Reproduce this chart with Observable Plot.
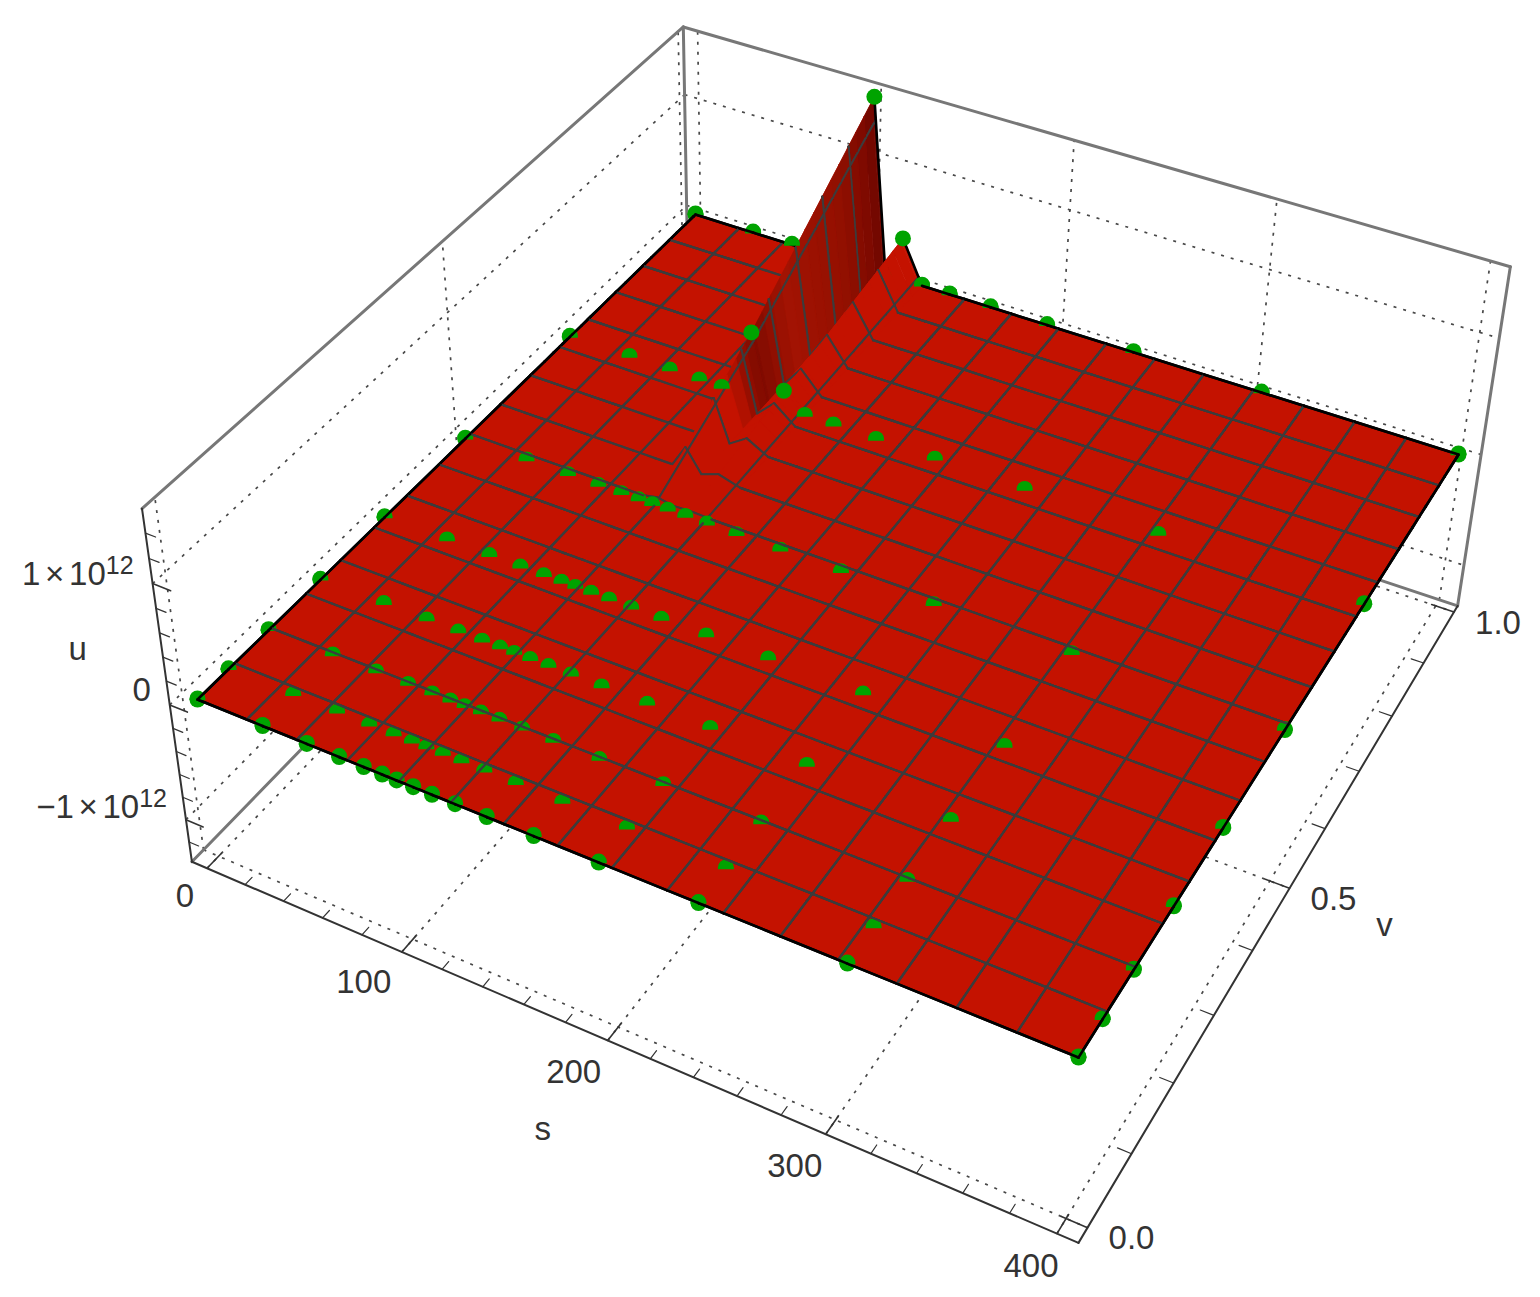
<!DOCTYPE html>
<html><head><meta charset="utf-8">
<style>html,body{margin:0;padding:0;background:#fff}svg{display:block}</style>
<script src="https://cdn.jsdelivr.net/npm/d3@7"></script>
<script src="https://cdn.jsdelivr.net/npm/@observablehq/plot@0.6"></script>
</head><body><div id="chart"></div>
<script>
// ---- data ----
const sGrid=[0,33,55,71,83,92,99,107,116,127,142,164,194,239,304,400];
const vGrid=[0,0.052,0.121,0.213,0.332,0.49,0.71,1];
const uZero=[0,0,0,0,0,0,0,0,0,0,0,0,0,0,0,0];
const uV071=[0,0,0,0,0,0,0.575,0,0.16,0,0,0,0,0,0,0];   // units of 1e12
const uV100=[0,0,0,0,0,0,1.52,0,0.37,0,0,0,0,0,0,0];
const uRows=[uZero,uZero,uZero,uZero,uZero,uZero,uV071,uV100];
const sTicks=[0,100,200,300,400], vTicks=[0,0.5,1], uTicks=[-1,0,1];
const sMinor=[20,40,60,80,120,140,160,180,220,240,260,280,320,340,360,380];
const vMinor=[0.1,0.2,0.3,0.4,0.6,0.7,0.8,0.9];
const uMinor=[-1.2,-0.8,-0.6,-0.4,-0.2,0.2,0.4,0.6,0.8,1.2,1.4];
const meshS=d3.range(1,16).map(k=>k*25), meshV=d3.range(1,16).map(k=>k/16);
const hiddenPts=["3,7","4,7","5,7","7,7","5,6","7,6"];
const raisedPts=["6,7","8,7","6,6","8,6"];
const box={s0:-8,s1:409,v0:-0.02,v1:1.012,u0:-1.38,u1:1.59};
// small label placement corrections, per tick
const sNudge=[[14,-2],[-2,0],[2,2],[5,2],[10,3]], uNudge=[[0,0],[0,-2],[0,3]];
// ---- colours ----
const RED="#c41200",MESH="#3c3c3c",GREEN="#00a300",INK="#333",BACK="#777",GRID="#484848";
// ---- perspective camera ----
const cam={a:760.33,b:644.23,c:197,d:239.67,e:-439.97,f:699,g:-0.11194,h:0.2104,i:-21.3,j:-137.1,k:-0.02748};
const px=(s,v,u)=>{const p=s/400;return (cam.a*p+cam.b*v+cam.c+cam.i*u)/(1+cam.g*p+cam.h*v+cam.k*u)};
const py=(s,v,u)=>{const p=s/400;return (cam.d*p+cam.e*v+cam.f+cam.j*u)/(1+cam.g*p+cam.h*v+cam.k*u)};
const P=(s,v,u,extra={})=>({x:px(s,v,u),y:py(s,v,u),s,v,u,...extra});
const uAt=(s,v)=>{
  const i=Math.min(d3.bisectRight(sGrid,s)-1,sGrid.length-2), j=Math.min(d3.bisectRight(vGrid,v)-1,vGrid.length-2);
  const ts=(s-sGrid[i])/(sGrid[i+1]-sGrid[i]), tv=(v-vGrid[j])/(vGrid[j+1]-vGrid[j]);
  return (uRows[j][i]*(1-ts)+uRows[j][i+1]*ts)*(1-tv)+(uRows[j+1][i]*(1-ts)+uRows[j+1][i+1]*ts)*tv;
};
// ---- wall shading along v ----
const wallShade=d3.scaleLinear().domain([0.655,0.675,0.71,0.78,0.9,0.97,1]).range([RED,"#9c0f00","#7f0b00","#a31303","#941000","#7d0a00","#6a0600"]);
const quadFill=(s,v)=>(s>=99&&s<=107&&v>=0.655)?wallShade(v):RED;
// ---- surface: flat plane first, raised cells back to front ----
const uniq=a=>[...new Set(a.map(d=>+d.toFixed(4)))].sort(d3.ascending);
const sAll=uniq([...sGrid,...meshS]);
const vAll=uniq([...vGrid,...meshV,...d3.range(0.655,1,0.02)]);
const isS=s=>meshS.includes(s), isV=v=>meshV.some(m=>Math.abs(m-v)<1e-4);
const surf=[],raised=[],overlay=[];let id=0;
function seg(a1,b1,a2,b2,color,w,out){const n=id++;
  out.push(P(a1,b1,uAt(a1,b1),{id:n,f:"none",c:color,w}),P(a2,b2,uAt(a2,b2),{id:n,f:"none",c:color,w}));}
function edges(a1,b1,a2,b2,tgt){
  if(isS(a1))seg(a1,b1,a1,b2,MESH,2,tgt);
  if(isS(a2))seg(a2,b1,a2,b2,MESH,2,tgt);
  if(isV(b1))seg(a1,b1,a2,b1,MESH,2,tgt);
  if(isV(b2))seg(a1,b2,a2,b2,MESH,2,tgt);
  if(a1===0)seg(a1,b1,a1,b2,"#000",2.6,tgt);
  if(a2===400)seg(a2,b1,a2,b2,"#000",2.6,tgt);
  if(b1===0)seg(a1,b1,a2,b1,"#000",2.6,tgt);
  if(b2===1)seg(a1,b2,a2,b2,"#000",2.6,tgt);
}
{const n=id++;for(const [a,b] of [[0,0],[400,0],[400,1],[0,1],[0,0]])surf.push(P(a,b,0,{id:n,f:RED,c:RED,w:0.5}));}
for(let j=vAll.length-2;j>=0;j--)for(let i=0;i<sAll.length-1;i++){
  const a1=sAll[i],a2=sAll[i+1],b1=vAll[j],b2=vAll[j+1];
  const flat=[[a1,b1],[a2,b1],[a2,b2],[a1,b2]].every(([a,b])=>uAt(a,b)===0);
  if(flat){
    edges(a1,b1,a2,b2,surf);
    if(b2<=0.5||a1>=125||a2<=50)edges(a1,b1,a2,b2,overlay);
  }else{
    const n=id++,f=quadFill((a1+a2)/2,(b1+b2)/2);
    for(const [a,b] of [[a1,b1],[a2,b1],[a2,b2],[a1,b2],[a1,b1]])raised.push(P(a,b,uAt(a,b),{id:n,f,c:f,w:0.7}));
    edges(a1,b1,a2,b2,raised);
  }
}
// ---- sample points ----
const pts=vGrid.flatMap((v,j)=>sGrid.map((s,i)=>P(s,v,uRows[j][i],{key:i+","+j})));
const domePts=pts.filter(d=>!hiddenPts.includes(d.key)&&!raisedPts.includes(d.key));
const topPts=pts.filter(d=>raisedPts.includes(d.key));
const dome={draw(ctx,size){const r=Math.sqrt(size/Math.PI);
  ctx.moveTo(-r,0.8);ctx.lineTo(-r,-1);ctx.arc(0,-1,r,Math.PI,2*Math.PI);ctx.lineTo(r,0.8);ctx.closePath();}};
// ---- box ----
const {s0,s1,v0,v1,u0,u1}=box;
const lines=[];let lid=0;
const L=(a,b,extra)=>{const n=lid++;lines.push(P(...a,{id:n,...extra}),P(...b,{id:n,...extra}));};
for(const s of sTicks){L([s,v0,u0],[s,v1,u0]);L([s,v1,u0],[s,v1,u1]);}
for(const v of vTicks){L([s0,v,u0],[s1,v,u0]);L([s0,v,u0],[s0,v,u1]);}
for(const u of uTicks){L([s0,v0,u],[s0,v1,u]);L([s0,v1,u],[s1,v1,u]);}
const backEdges=[[[s0,v0,u1],[s0,v1,u1]],[[s0,v1,u1],[s1,v1,u1]],[[s1,v1,u1],[s1,v1,u0]],[[s0,v1,u1],[s0,v1,u0]],[[s0,v0,u0],[s0,v1,u0]],[[s1,v1,u0],[s0,v1,u0]]]
  .flatMap((e,n)=>e.map(p=>P(...p,{id:n})));
const frontEdges=[[[s0,v0,u1],[s0,v0,u0]],[[s0,v0,u0],[s1,v0,u0]],[[s1,v0,u0],[s1,v1,u0]]]
  .flatMap((e,n)=>e.map(p=>P(...p,{id:n})));
const tickSeg=[];let tid=0;
const T=(a,b,w)=>{const n=tid++;tickSeg.push(P(...a,{id:n,w}),P(...b,{id:n,w}));};
for(const s of sTicks)T([s,v0,u0],[s,0.005,u0],1.6);
for(const s of sMinor)T([s,v0,u0],[s,-0.008,u0],1.2);
for(const v of vTicks)T([s1,v,u0],[398,v,u0],1.6);
for(const v of vMinor)T([s1,v,u0],[403,v,u0],1.2);
for(const u of uTicks)T([s0,v0,u],[1,v0,u],1.6);
for(const u of uMinor)T([s0,v0,u],[-3,v0,u],1.2);
// ---- labels ----
const FONT="Liberation Sans";
const sLab=sTicks.map((s,i)=>{const d=P(s,v0,u0,{t:String(s)});d.x+=sNudge[i][0];d.y+=sNudge[i][1];return d;});
const vLab=vTicks.map(v=>P(s1,v,u0,{t:v.toFixed(1)}));
const uLab=uTicks.map((u,i)=>{const d=P(s0,v0,u,{t:u===0?"0":(u<0?"\u22121":"1")+" \u00d7 10"});d.x+=uNudge[i][0];d.y+=uNudge[i][1];return d;});
const txt={fontFamily:FONT,fontSize:33,fill:INK};
const chart=Plot.plot({
  width:1540,height:1297,margin:0,
  x:{domain:[0,1540],range:[0,1540],axis:null},
  y:{domain:[0,1297],range:[0,1297],axis:null},
  marks:[
    Plot.line(lines,{x:"x",y:"y",z:"id",stroke:GRID,strokeWidth:1.7,strokeDasharray:"3,7",strokeLinecap:"butt"}),
    Plot.line(backEdges,{x:"x",y:"y",z:"id",stroke:BACK,strokeWidth:3}),
    Plot.line(frontEdges,{x:"x",y:"y",z:"id",stroke:INK,strokeWidth:2}),
    Plot.line(tickSeg,{x:"x",y:"y",z:"id",stroke:INK,strokeWidth:"w"}),
    Plot.dot(pts.filter(d=>!raisedPts.includes(d.key)),{x:"x",y:"y",r:8,fill:GREEN}),
    Plot.line(surf,{x:"x",y:"y",z:"id",fill:{value:"f",scale:null},stroke:{value:"c",scale:null},strokeWidth:"w"}),
    Plot.line(raised,{x:"x",y:"y",z:"id",fill:{value:"f",scale:null},stroke:{value:"c",scale:null},strokeWidth:"w"}),
    Plot.dot(domePts,{x:"x",y:"y",r:8,fill:GREEN,symbol:dome}),
    Plot.line(overlay,{x:"x",y:"y",z:"id",stroke:{value:"c",scale:null},strokeWidth:"w"}),
    Plot.dot(topPts,{x:"x",y:"y",r:8,fill:GREEN}),
    Plot.text(sLab,{x:"x",y:"y",text:"t",dx:-36,dy:30,...txt}),
    Plot.text(vLab,{x:"x",y:"y",text:"t",dx:44,dy:11,...txt}),
    Plot.text(uLab,{x:"x",y:"y",text:"t",dx:-19,dy:-2,textAnchor:"end",lineAnchor:"bottom",...txt}),
    Plot.text([P(200,v0,u0,{t:"s"})],{x:"x",y:"y",text:"t",dx:-65,dy:89,...txt}),
    Plot.text([P(s1,0.5,u0,{t:"v"})],{x:"x",y:"y",text:"t",dx:95,dy:37,...txt}),
    Plot.text([P(s0,v0,0,{t:"u"})],{x:"x",y:"y",text:"t",dx:-92,dy:-55,...txt})
  ]
});
document.getElementById("chart").append(chart);
// superscript exponent on the u labels
d3.select(chart).selectAll("text").filter(function(){return this.textContent.includes("\u00d7");})
  .style("word-spacing","-4.5px")
  .each(function(){d3.select(this).append("tspan").attr("dy",-11).attr("font-size",25).text("12");});
</script></body></html>
